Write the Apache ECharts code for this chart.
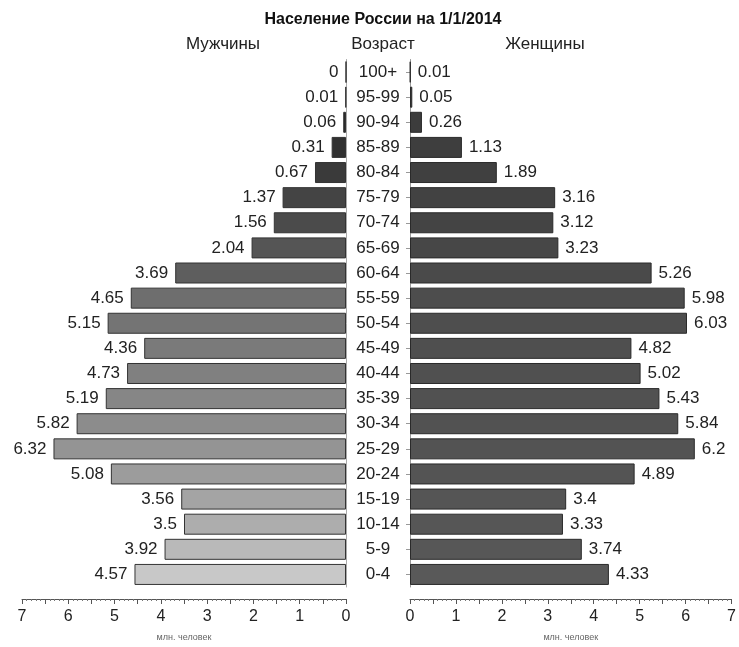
<!DOCTYPE html>
<html>
<head>
<meta charset="utf-8">
<script src="https://cdn.jsdelivr.net/npm/echarts@6/dist/echarts.min.js"></script>
<style>
html,body{margin:0;padding:0;background:#fff;}
#chart{width:739px;height:647px;}
</style>
</head>
<body>
<div id="chart"></div>
<script>
const ages = ['0-4','5-9','10-14','15-19','20-24','25-29','30-34','35-39','40-44','45-49','50-54','55-59','60-64','65-69','70-74','75-79','80-84','85-89','90-94','95-99','100+'];
const men = [4.57,3.92,3.5,3.56,5.08,6.32,5.82,5.19,4.73,4.36,5.15,4.65,3.69,2.04,1.56,1.37,0.67,0.31,0.06,0.01,0];
const women = [4.33,3.74,3.33,3.4,4.89,6.2,5.84,5.43,5.02,4.82,6.03,5.98,5.26,3.23,3.12,3.16,1.89,1.13,0.26,0.05,0.01];
const xTicks = [0,1,2,3,4,5,6,7];

// styling: grey shades for men bars, from young (light) to old (dark)
const menShades = ['#c8c8c8','#b9b9b9','#adadad','#a4a4a4','#9c9c9c','#949494','#8c8c8c','#868686','#808080','#7a7a7a','#747474','#6e6e6e','#5e5e5e','#555555','#4b4b4b','#444444','#3a3a3a','#303030','#282828','#222222','#1a1a1a'];
const womenShades = ['#595959','#575757','#565656','#555555','#545454','#535353','#525252','#515151','#505050','#4f4f4f','#4e4e4e','#4d4d4d','#4a4a4a','#474747','#444444','#424242','#404040','#3e3e3e','#3c3c3c','#3a3a3a','#383838'];

const FONT = "'Liberation Sans', Arial, sans-serif";
const chart = echarts.init(document.getElementById('chart'));

function xAxisCfg(gridIndex, inverse){
  return {
    type:'value', gridIndex, inverse, min:0, max:7, interval:0.5,
    offset:12,
    axisLine:{show:true, lineStyle:{color:'#555', width:1}},
    axisTick:{show:true, length:5, lineStyle:{color:'#555'}},
    minorTick:{show:true, splitNumber:5, length:2, lineStyle:{color:'#777'}},
    splitLine:{show:false},
    axisLabel:{margin:10, fontSize:16, color:'#222', fontFamily:FONT,
      formatter:v => xTicks.indexOf(v) >= 0 ? String(v) : ''},
    name:'млн. человек', nameLocation:'middle', nameGap:34,
    nameTextStyle:{fontSize:9, color:'#666', fontFamily:FONT}
  };
}

chart.setOption({
  backgroundColor:'#fff',
  animation:false,
  title:[
    {text:'Население России на 1/1/2014', left:378, top:7, textAlign:'center',
     textStyle:{fontSize:16, fontWeight:'bold', color:'#111', fontFamily:FONT}},
    {text:'Мужчины', left:218, top:31, textAlign:'center',
     textStyle:{fontSize:17, fontWeight:'normal', color:'#222', fontFamily:FONT}},
    {text:'Возраст', left:378, top:31, textAlign:'center',
     textStyle:{fontSize:17, fontWeight:'normal', color:'#222', fontFamily:FONT}},
    {text:'Женщины', left:540, top:31, textAlign:'center',
     textStyle:{fontSize:17, fontWeight:'normal', color:'#222', fontFamily:FONT}}
  ],
  grid:[
    {left:22, right:393, top:59.5, bottom:56.5},
    {left:410, right:7, top:59.5, bottom:56.5}
  ],
  xAxis:[xAxisCfg(0,true), xAxisCfg(1,false)],
  yAxis:[
    {type:'category', gridIndex:0, data:ages, position:'right',
     axisLine:{show:true, lineStyle:{color:'#aaa'}}, axisTick:{show:false},
     axisLabel:{show:false}},
    {type:'category', gridIndex:1, data:ages, position:'left',
     axisLine:{show:true, lineStyle:{color:'#999'}},
     axisTick:{show:true, alignWithLabel:true, length:4, lineStyle:{color:'#999'}},
     axisLabel:{show:true, margin:32, align:'center', fontSize:17, color:'#222', fontFamily:FONT}}
  ],
  series:[
    {type:'bar', xAxisIndex:0, yAxisIndex:0, barWidth:21,
     data:men.map((v,i)=>({value:v, itemStyle:{color:menShades[i]}})),
     itemStyle:{borderColor:'#333', borderWidth:1},
     label:{show:true, position:'left', distance:7, fontSize:17, color:'#222', fontFamily:FONT,
       formatter:p=>String(p.value)}},
    {type:'bar', xAxisIndex:1, yAxisIndex:1, barWidth:21,
     data:women.map((v,i)=>({value:v, itemStyle:{color:womenShades[i]}})),
     itemStyle:{borderColor:'#2a2a2a', borderWidth:1},
     label:{show:true, position:'right', distance:7, fontSize:17, color:'#222', fontFamily:FONT,
       formatter:p=>String(p.value)}}
  ]
});
</script>
</body>
</html>
